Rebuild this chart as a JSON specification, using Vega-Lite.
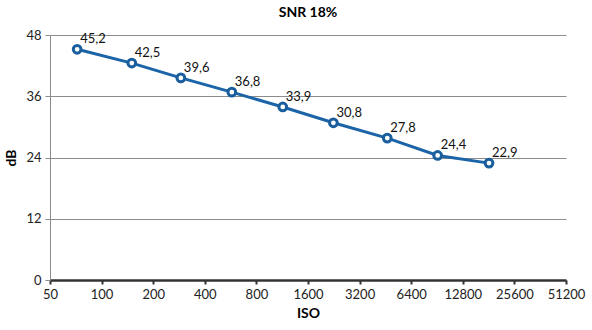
{
  "$schema": "https://vega.github.io/schema/vega-lite/v6.json",
  "autosize": {"type": "none"},
  "width": 516,
  "height": 245,
  "padding": {"left": 50, "top": 35, "right": 26, "bottom": 50},
  "config": {
    "view": {"stroke": null},
    "font": "Lato",
    "locale": {"number": {"decimal": ",", "thousands": "", "grouping": [3], "currency": ["", ""]}}
  },
  "title": {"text": "SNR 18%", "fontSize": 14, "fontWeight": "bold", "color": "#000000", "offset": 9, "anchor": "middle"},
  "data": {"values": [
    {"iso": 72, "db": 45.2},
    {"iso": 150, "db": 42.5},
    {"iso": 290, "db": 39.6},
    {"iso": 575, "db": 36.8},
    {"iso": 1140, "db": 33.9},
    {"iso": 2250, "db": 30.8},
    {"iso": 4640, "db": 27.8},
    {"iso": 9130, "db": 24.4},
    {"iso": 18200, "db": 22.9}
  ]},
  "encoding": {
    "x": {"field": "iso", "type": "quantitative",
      "scale": {"type": "log", "base": 2, "domain": [50, 51200], "nice": false},
      "axis": {"title": "ISO", "values": [50,100,200,400,800,1600,3200,6400,12800,25600,51200], "format": "d",
        "labelOverlap": false, "labelBound": false, "labelFlush": false,
        "grid": false, "domainColor": "#333333", "domainWidth": 2.5, "tickColor": "#333333", "tickWidth": 2, "tickSize": 4,
        "labelFontSize": 13, "labelColor": "#222222", "labelPadding": 4, "titleFontSize": 14, "titleFontWeight": "bold", "titleColor": "#000000", "titlePadding": 5}},
    "y": {"field": "db", "type": "quantitative",
      "scale": {"domain": [0, 48], "nice": false},
      "axis": {"title": "dB", "values": [0,12,24,36,48], "format": "d",
        "grid": true, "gridColor": "#8c8c8c", "gridWidth": 1, "domainColor": "#8c8c8c", "domainWidth": 1,
        "tickColor": "#8c8c8c", "tickSize": 5, "labelFontSize": 13, "labelColor": "#222222", "labelPadding": 4,
        "titleFontSize": 14, "titleFontWeight": "bold", "titleColor": "#000000", "titlePadding": 7}}
  },
  "layer": [
    {"mark": {"type": "line", "color": "#1b64a8", "strokeWidth": 3}},
    {"mark": {"type": "point", "shape": "circle", "size": 60, "filled": false, "fill": "#ffffff", "fillOpacity": 1, "stroke": "#1a5e9e", "strokeWidth": 3, "opacity": 1}},
    {"mark": {"type": "text", "align": "left", "baseline": "alphabetic", "dx": 3, "dy": -6, "fontSize": 13, "color": "#111111"},
     "encoding": {"text": {"field": "db", "type": "quantitative", "format": ".1f"}}}
  ]
}
